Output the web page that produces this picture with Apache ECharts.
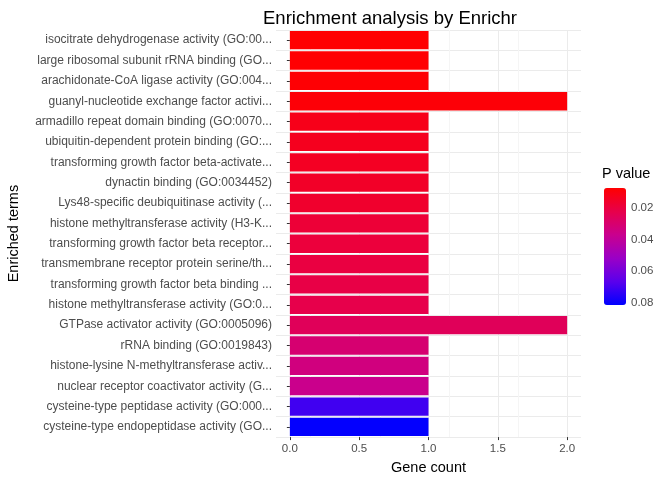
<!DOCTYPE html>
<html>
<head>
<meta charset="utf-8">
<script src="https://cdn.jsdelivr.net/npm/echarts@6/dist/echarts.min.js"></script>
<style>html,body{margin:0;padding:0;background:#fff}#c{width:672px;height:480px}</style>
</head>
<body>
<div id="c"></div>
<script>
const terms = [
  'isocitrate dehydrogenase activity (GO:00...',
  'large ribosomal subunit rRNA binding (GO...',
  'arachidonate-CoA ligase activity (GO:004...',
  'guanyl-nucleotide exchange factor activi...',
  'armadillo repeat domain binding (GO:0070...',
  'ubiquitin-dependent protein binding (GO:...',
  'transforming growth factor beta-activate...',
  'dynactin binding (GO:0034452)',
  'Lys48-specific deubiquitinase activity (...',
  'histone methyltransferase activity (H3-K...',
  'transforming growth factor beta receptor...',
  'transmembrane receptor protein serine/th...',
  'transforming growth factor beta binding ...',
  'histone methyltransferase activity (GO:0...',
  'GTPase activator activity (GO:0005096)',
  'rRNA binding (GO:0019843)',
  'histone-lysine N-methyltransferase activ...',
  'nuclear receptor coactivator activity (G...',
  'cysteine-type peptidase activity (GO:000...',
  'cysteine-type endopeptidase activity (GO...'
];
const geneCount = [1, 1, 1, 2, 1, 1, 1, 1, 1, 1, 1, 1, 1, 1, 2, 1, 1, 1, 1, 1];
const pValue = [0.0072, 0.0074, 0.0078, 0.0085, 0.012, 0.013, 0.014, 0.015, 0.016, 0.018,
  0.019, 0.020, 0.021, 0.022, 0.025, 0.030, 0.033, 0.036, 0.070, 0.080];
const legendTicks = [0.02, 0.04, 0.06, 0.08];
const xTicks = [0, 0.5, 1, 1.5, 2];

const pMin = 0.0071, pMax = 0.0805;
const legTop = 188, legH = 117;
const chart = echarts.init(document.getElementById('c'));
const font = 'Arial, Liberation Sans, sans-serif';
chart.setOption({
  animation: false,
  title: {
    text: 'Enrichment analysis by Enrichr', left: 385, top: 4, textAlign: 'center',
    textStyle: { fontFamily: font, fontSize: 18.5, fontWeight: 'normal', color: '#000' }
  },
  grid: { left: 276, right: 91, top: 30, bottom: 38 },
  xAxis: {
    type: 'value', min: -0.1, max: 2.1, interval: 0.5,
    name: 'Gene count', nameLocation: 'middle', nameGap: 22,
    nameTextStyle: { fontFamily: font, fontSize: 14.5, color: '#000' },
    axisLine: { show: false },
    axisTick: { show: true, customValues: xTicks, lineStyle: { color: '#333' }, length: 3 },
    axisLabel: {
      fontFamily: font, fontSize: 11.5, color: '#4d4d4d', margin: 6,
      customValues: xTicks,
      formatter: v => v.toFixed(1)
    },
    splitLine: { show: true, lineStyle: { color: '#ebebeb' } },
    minorTick: { show: false, splitNumber: 2 },
    minorSplitLine: { show: true, lineStyle: { color: '#f5f5f5' } }
  },
  yAxis: {
    type: 'category', data: terms, inverse: true,
    name: 'Enriched terms', nameLocation: 'middle', nameGap: 255, nameRotate: 90,
    nameTextStyle: { fontFamily: font, fontSize: 14.5, color: '#000' },
    axisLine: { show: false },
    axisTick: { show: true, alignWithLabel: true, length: 3, lineStyle: { color: '#333' } },
    axisLabel: { fontFamily: font, fontSize: 12, color: '#4d4d4d', margin: 4 },
    splitLine: { show: true, interval: 0, lineStyle: { color: '#ebebeb' } }
  },
  visualMap: {
    type: 'continuous', min: pMin, max: pMax, dimension: 2, seriesIndex: 0,
    inverse: true, calculable: false, showLabel: false, text: null, padding: 0,
    left: 604, top: legTop, itemWidth: 22, itemHeight: legH,
    inRange: { color: ['#FF0000', '#E7004A', '#C9008E', '#9A00C6', '#5A00EC', '#0000FF'] }
  },
  series: [{
    type: 'bar', barCategoryGap: '10%',
    encode: { x: 0, y: 1 },
    data: terms.map((t, i) => [geneCount[i], t, pValue[i]])
  }],
  graphic: [
    { type: 'text', left: 602, top: 166, style: { text: 'P value', font: '14.5px ' + font, fill: '#000' } }
  ].concat(legendTicks.map(v => ({
    type: 'text', left: 631,
    top: legTop + (v - pMin) / (pMax - pMin) * legH - 7,
    style: { text: v.toFixed(2), font: '11.5px ' + font, fill: '#4d4d4d' }
  })))
});
</script>
</body>
</html>
